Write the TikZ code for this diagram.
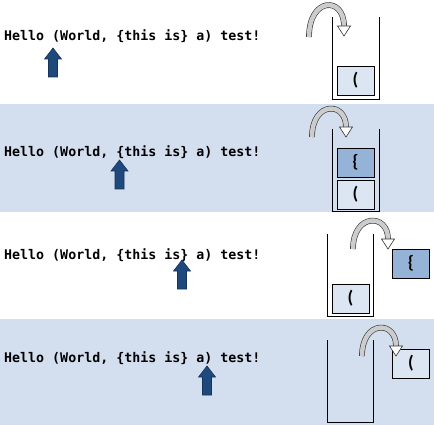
\documentclass[tikz,border=0pt]{standalone}
\usepackage{fontspec}
\newfontfamily\codefont{DejaVu Sans Mono}
\newfontfamily\cellfont{Carlito}
\definecolor{bandblue}{RGB}{211,222,239}
\definecolor{lightcell}{RGB}{220,230,242}
\definecolor{darkcell}{RGB}{149,179,215}
\definecolor{pointerblue}{RGB}{31,73,125}
\begin{document}
\begin{tikzpicture}[x=1pt, y=-1pt,
    code/.style={anchor=base west, inner sep=0pt, font=\codefont\bfseries\fontsize{13.3}{16}\selectfont},
    lightcellbox/.style={draw=black, line width=0.9pt, fill=lightcell, minimum width=37pt, minimum height=29pt, inner sep=0pt, font=\cellfont\bfseries\fontsize{18}{18}\selectfont},
    darkcellbox/.style={lightcellbox, fill=darkcell},
    pointer/.style={fill=pointerblue, draw=pointerblue!70!black, line width=0.6pt},
    stackwall/.style={line width=0.9pt},
    shaft/.style={draw=black!80, line width=0.6pt, double=gray!40, double distance=4.5pt},
    headtri/.style={draw=black!80, line width=0.6pt, fill=white, line join=miter}]
  \useasboundingbox (0,0) rectangle (434,425);
  % background bands
  \fill [bandblue] (0,104) rectangle (434,212);
  \fill [bandblue] (0,319) rectangle (434,425);

  % step 1: push (
  \node[code] (t1) at (4,41) {Hello (World, \{this is\} a) test!};
  \draw [pointer] (48.5,77) -- ++(9,0) -- ++(0,-18) -- ++(4,0) -- ++(-8.5,-11) -- ++(-8.5,11) -- ++(4,0) -- cycle;
  \draw [stackwall] (332,17) -- (332,99) -- (379,99) -- (379,17);
  \node[lightcellbox] (c1) at (355.5,80.5) {(};
  \coordinate (s1) at (309,37);
  \coordinate (e1) at (344,26);
  \draw [shaft] (s1) .. controls +(0,-40) and +(0,-30) .. (e1);
  \draw [headtri] ([xshift=-6.5pt]e1) -- ([xshift=6.5pt]e1) -- ([yshift=-10pt]e1) -- cycle;

  % step 2: push {
  \node[code] (t2) at (4,157) {Hello (World, \{this is\} a) test!};
  \draw [pointer] (115,189) -- ++(9,0) -- ++(0,-18) -- ++(4,0) -- ++(-8.5,-11) -- ++(-8.5,11) -- ++(4,0) -- cycle;
  \draw [stackwall] (332,129) -- (332,211) -- (379,211) -- (379,129);
  \node[darkcellbox] (c2a) at (355.5,162.5) {\{};
  \node[lightcellbox] (c2b) at (355.5,194.5) {(};
  \coordinate (s2) at (312,137);
  \coordinate (e2) at (346,127);
  \draw [shaft] (s2) .. controls +(0,-36) and +(0,-26) .. (e2);
  \draw [headtri] ([xshift=-6.5pt]e2) -- ([xshift=6.5pt]e2) -- ([yshift=-10pt]e2) -- cycle;

  % step 3: pop {
  \node[code] (t3) at (4,259) {Hello (World, \{this is\} a) test!};
  \draw [pointer] (177.5,289) -- ++(9,0) -- ++(0,-18) -- ++(4,0) -- ++(-8.5,-11) -- ++(-8.5,11) -- ++(4,0) -- cycle;
  \draw [stackwall] (327,234) -- (327,316) -- (373,316) -- (373,234);
  \node[lightcellbox] (c3a) at (350.5,298.5) {(};
  \node[darkcellbox] (c3b) at (411,263.5) {\{};
  \coordinate (s3) at (353,249);
  \coordinate (e3) at (388,239);
  \draw [shaft] (s3) .. controls +(0,-36) and +(0,-26) .. (e3);
  \draw [headtri] ([xshift=-6.5pt]e3) -- ([xshift=6.5pt]e3) -- ([yshift=-10pt]e3) -- cycle;

  % step 4: pop (
  \node[code] (t4) at (4,362) {Hello (World, \{this is\} a) test!};
  \draw [pointer] (202.5,395) -- ++(9,0) -- ++(0,-18) -- ++(4,0) -- ++(-8.5,-11) -- ++(-8.5,11) -- ++(4,0) -- cycle;
  \draw [stackwall] (327,340) -- (327,422) -- (373,422) -- (373,340);
  \node[lightcellbox] (c4) at (411,363.5) {(};
  \coordinate (s4) at (362,356);
  \coordinate (e4) at (396,346);
  \draw [shaft] (s4) .. controls +(0,-36) and +(0,-26) .. (e4);
  \draw [headtri] ([xshift=-6.5pt]e4) -- ([xshift=6.5pt]e4) -- ([yshift=-10pt]e4) -- cycle;
\end{tikzpicture}
\end{document}
